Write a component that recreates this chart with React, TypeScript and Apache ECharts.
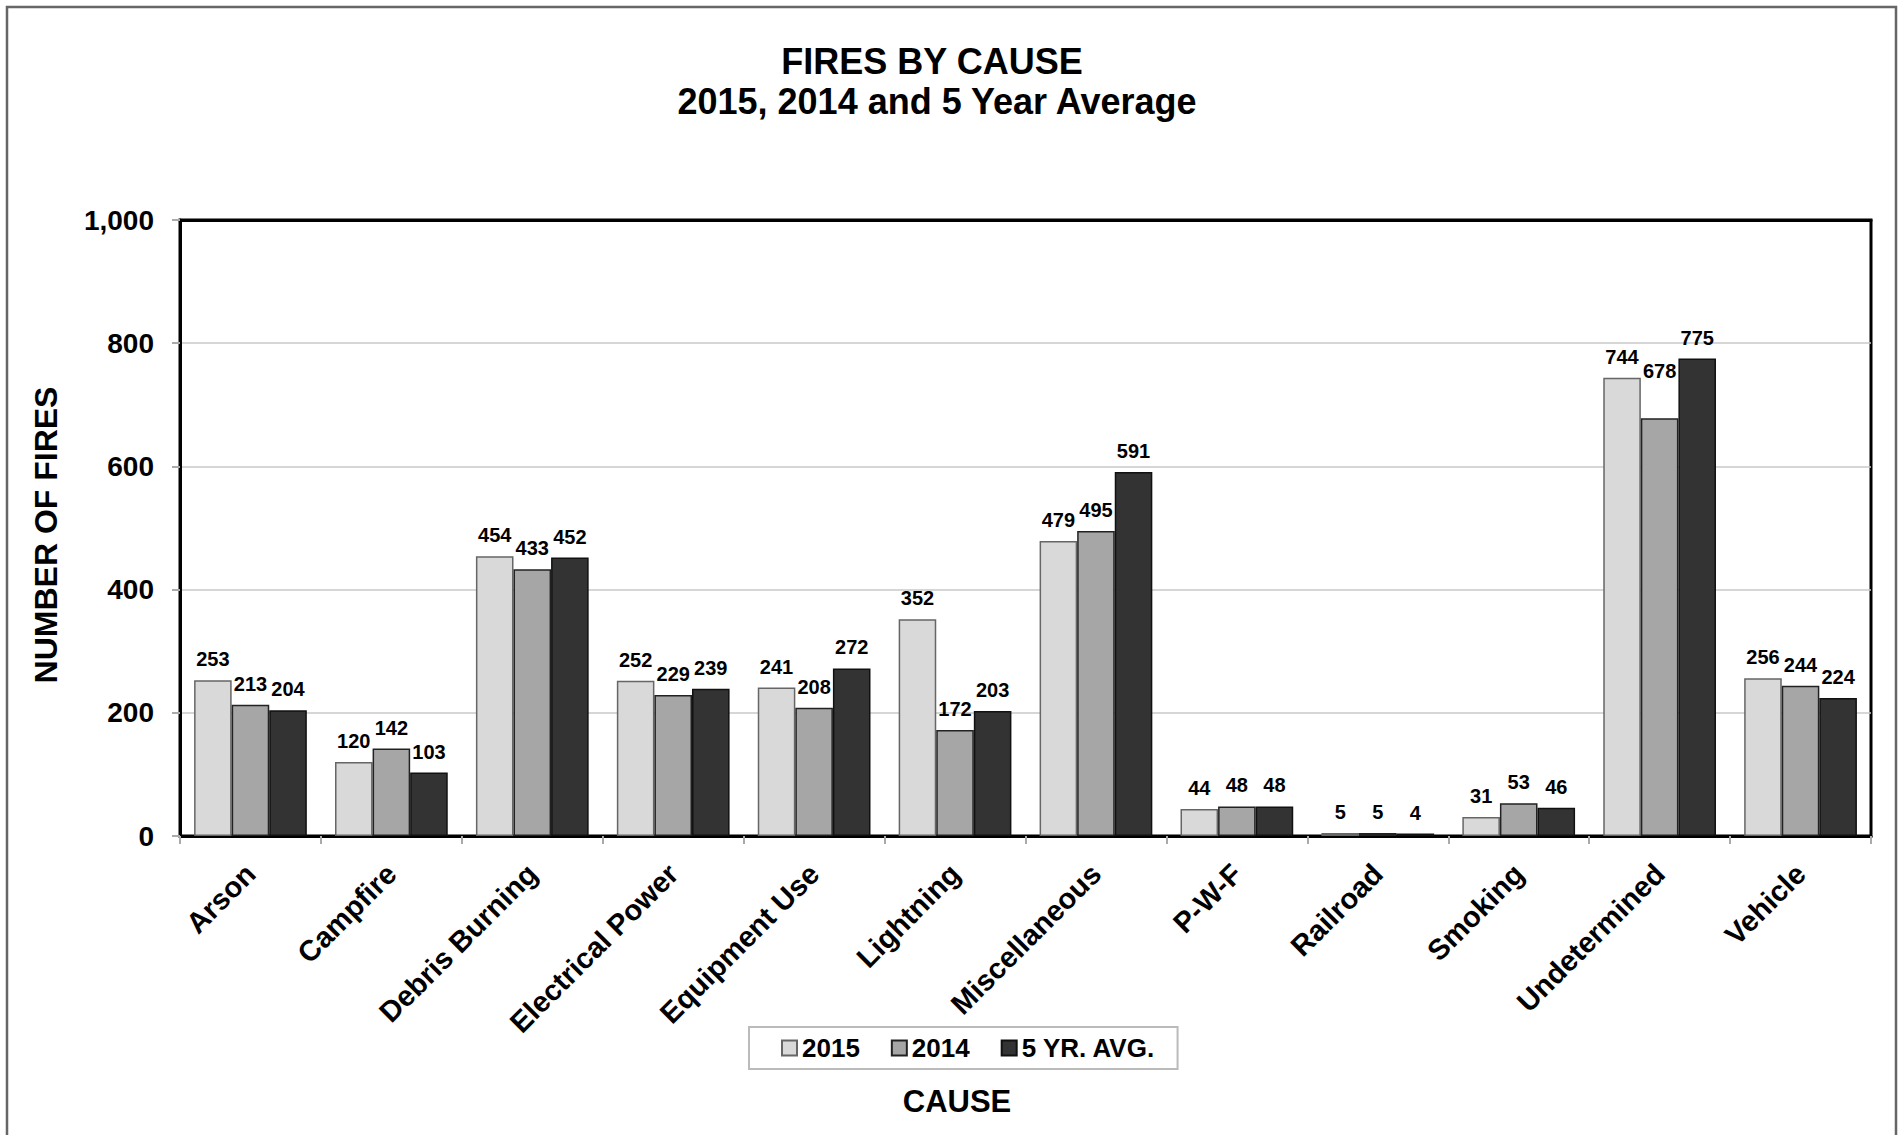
import React, { useEffect, useRef } from "react";
import * as echarts from "echarts";

const categories = [
  "Arson",
  "Campfire",
  "Debris Burning",
  "Electrical Power",
  "Equipment Use",
  "Lightning",
  "Miscellaneous",
  "P-W-F",
  "Railroad",
  "Smoking",
  "Undetermined",
  "Vehicle",
];
const fires2015 = [253, 120, 454, 252, 241, 352, 479, 44, 5, 31, 744, 256];
const fires2014 = [213, 142, 433, 229, 208, 172, 495, 48, 5, 53, 678, 244];
const fiveYrAvg = [204, 103, 452, 239, 272, 203, 591, 48, 4, 46, 775, 224];
const seriesNames = ["2015", "2014", "5 YR. AVG."];
const yTicks = { min: 0, max: 1000, interval: 200 };

const FONT = "'Liberation Sans', Arial, Helvetica, sans-serif";

export default function App() {
  const ref = useRef<HTMLDivElement>(null);
  useEffect(() => {
    if (!ref.current) return;
    const chart = echarts.init(ref.current, null, { renderer: "svg" });
    const labelCfg = {
      show: true,
      position: "top",
      distance: 11,
      color: "#000",
      fontFamily: FONT,
      fontWeight: "bold",
      fontSize: 20,
    };
    const mk = (name: string, data: any[], fill: string, border: string) => ({
      type: "bar",
      name,
      data,
      barGap: "0%",
      barCategoryGap: "20%",
      itemStyle: { color: fill, borderColor: border, borderWidth: 1.5 },
      label: labelCfg,
    });
    const d2014 = fires2014.map((v, i) =>
      categories[i] === "Undetermined" ? { value: v, label: { offset: [0, -26] } } : v
    );
    chart.setOption({
      animation: false,
      backgroundColor: "#fff",
      textStyle: { fontFamily: FONT },
      grid: {
        left: 180,
        right: 31,
        top: 220,
        bottom: 299,
        show: true,
        borderColor: "#000",
        borderWidth: 3,
        backgroundColor: "transparent",
      },
      legend: {
        left: 749,
        top: 1027,
        orient: "horizontal",
        padding: [8, 22, 8, 32],
        itemWidth: 15,
        itemHeight: 15,
        itemGap: 31,
        borderColor: "#bbb",
        borderWidth: 2,
        icon: "rect",
        textStyle: { fontFamily: FONT, fontSize: 26, fontWeight: "bold", color: "#000" },
        data: seriesNames,
      },
      xAxis: [
        {
          type: "category",
          data: categories,
          axisLine: { show: true, lineStyle: { color: "#000", width: 3 } },
          axisTick: { show: true, length: 8, lineStyle: { color: "#aaa", width: 2 } },
          axisLabel: {
            interval: 0,
            rotate: 45,
            margin: 33,
            color: "#000",
            fontFamily: FONT,
            fontWeight: "bold",
            fontSize: 29,
          },
        },
        {
          type: "category",
          position: "top",
          data: categories,
          axisLine: { show: true, lineStyle: { color: "#000", width: 3 } },
          axisTick: { show: false },
          axisLabel: { show: false },
          splitLine: { show: false },
        },
      ],
      yAxis: {
        type: "value",
        min: yTicks.min,
        max: yTicks.max,
        interval: yTicks.interval,
        name: "NUMBER OF FIRES",
        nameLocation: "middle",
        nameGap: 118,
        nameTextStyle: {
          fontFamily: FONT,
          fontSize: 32,
          fontWeight: "bold",
          color: "#000",
          padding: [0, 14, 0, 0],
        },
        axisLine: { show: true, lineStyle: { color: "#000", width: 3 } },
        axisTick: { show: true, length: 8, lineStyle: { color: "#aaa", width: 2 } },
        axisLabel: {
          margin: 26,
          color: "#000",
          fontFamily: FONT,
          fontWeight: "bold",
          fontSize: 28,
          formatter: (v: number) => v.toLocaleString("en-US"),
        },
        splitLine: { show: true, lineStyle: { color: "#c8c8c8", width: 1.5 } },
      },
      series: [
        mk(seriesNames[0], fires2015, "#d9d9d9", "#666"),
        mk(seriesNames[1], d2014, "#a6a6a6", "#222"),
        mk(seriesNames[2], fiveYrAvg, "#333333", "#111"),
      ],
      graphic: [
        {
          type: "rect",
          silent: true,
          z: -1,
          shape: { x: 7, y: 7, width: 1889, height: 1160 },
          style: { fill: "none", stroke: "#666", lineWidth: 2.5 },
        },
        {
          type: "text",
          x: 932,
          y: 61,
          style: {
            text: "FIRES BY CAUSE",
            textAlign: "center",
            textVerticalAlign: "middle",
            fontFamily: FONT,
            fontWeight: "bold",
            fontSize: 36,
            fill: "#000",
          },
        },
        {
          type: "text",
          x: 937,
          y: 101,
          style: {
            text: "2015, 2014 and 5 Year Average",
            textAlign: "center",
            textVerticalAlign: "middle",
            fontFamily: FONT,
            fontWeight: "bold",
            fontSize: 36,
            fill: "#000",
          },
        },
        {
          type: "text",
          x: 957,
          y: 1101,
          style: {
            text: "CAUSE",
            textAlign: "center",
            textVerticalAlign: "middle",
            fontFamily: FONT,
            fontWeight: "bold",
            fontSize: 31,
            fill: "#000",
          },
        },
      ],
    });
    return () => chart.dispose();
  }, []);
  return (
    <div
      ref={ref}
      style={{ position: "absolute", left: 0, top: 0, width: 1902, height: 1135 }}
    />
  );
}
